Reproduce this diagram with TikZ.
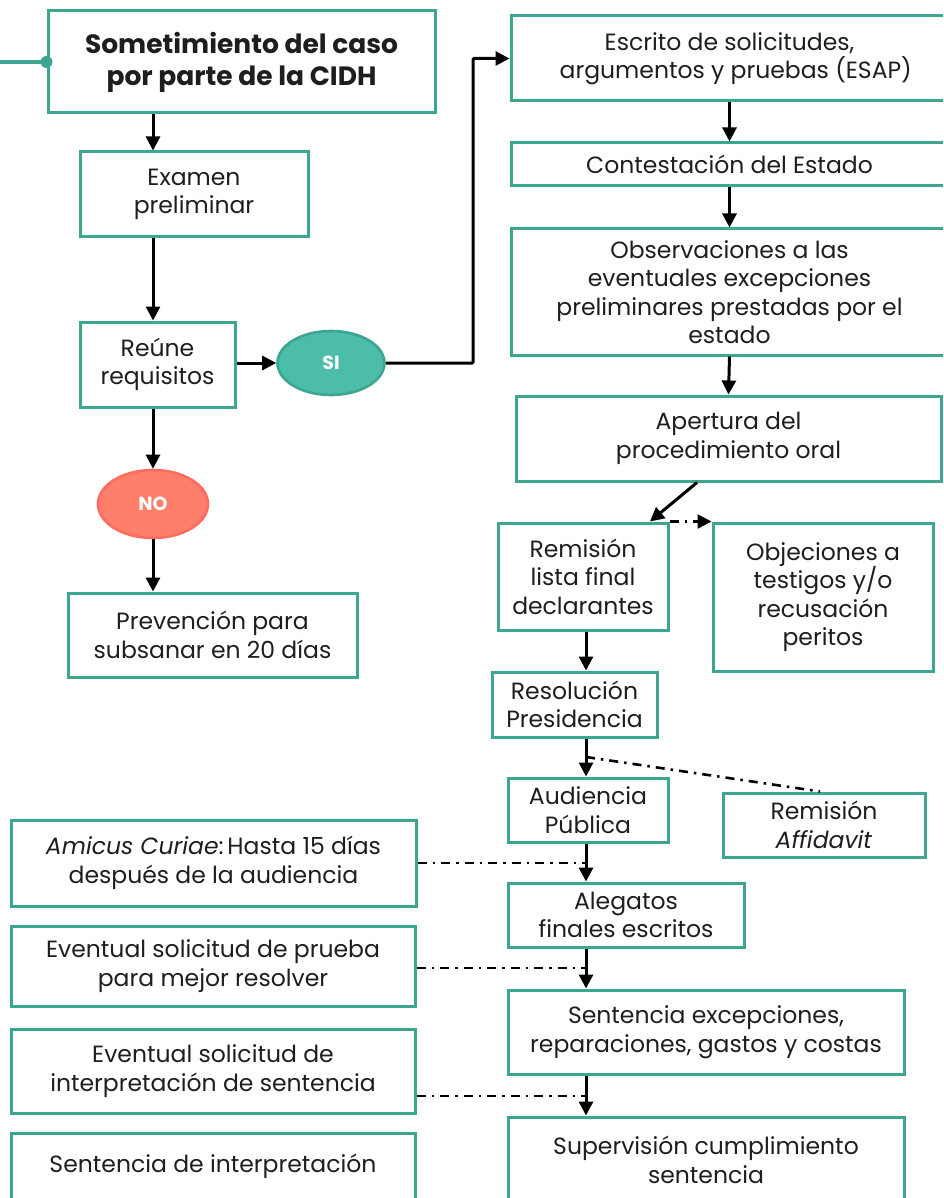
\documentclass[tikz,border=0pt]{standalone}
\usepackage{fontspec}
\setmainfont{Poppins}
\usetikzlibrary{arrows.meta,shapes.geometric}

\definecolor{verde}{HTML}{3DA693}
\definecolor{verdesi}{HTML}{4BBDA9}
\definecolor{rojono}{HTML}{FF7F6B}
\definecolor{bordeno}{HTML}{FF6B5E}
\definecolor{texto}{HTML}{1E1E1E}

\tikzset{
  caja/.style={draw=verde, line width=3pt, fill=white, align=center, text=texto,
    font=\fontsize{23.5}{28.5}\selectfont, inner sep=0pt},
  decision/.style={ellipse, line width=2.6pt, text=white, inner sep=0pt,
    font=\fontsize{19}{20}\selectfont\bfseries},
  flecha/.style={-{Triangle[length=14pt,width=14pt]}, line width=3pt},
  trazo/.style={line width=2.6pt, dash pattern=on 9pt off 6pt on 2.5pt off 6pt},
}

\begin{document}
\begin{tikzpicture}[x=1pt, y=-1pt]
  \useasboundingbox (0,0) rectangle (943,1198);
  \clip (0,0) rectangle (943,1198);

  % columna izquierda
  \node[caja, minimum width=387, minimum height=102,
    font=\fontsize{26.5}{32}\selectfont\bfseries] (someti) at (241.5,62)
    {Sometimiento del caso\\por parte de la CIDH};
  \node[caja, minimum width=228, minimum height=85] (examen) at (194,194.5)
    {Examen\\preliminar};
  \node[caja, minimum width=155, minimum height=85] (reune) at (157.5,364.5)
    {Reúne\\requisitos};
  \node[decision, fill=verdesi, draw=verde, minimum width=107, minimum height=64] (si) at (331,363) {SI};
  \node[decision, fill=rojono, draw=bordeno, minimum width=110, minimum height=68] (no) at (153,504) {NO};
  \node[caja, minimum width=289, minimum height=84] (prev) at (212.5,635)
    {Prevención para\\subsanar en 20 días};

  % columna derecha
  \node[caja, minimum width=437, minimum height=85] (esap) at (729.5,58.5)
    {Escrito de solicitudes,\\\ \ argumentos y pruebas (ESAP)};
  \node[caja, minimum width=437, minimum height=43] (contest) at (729.5,164.5)
    {Contestación del Estado};
  \node[caja, minimum width=437, minimum height=126] (observ) at (729.5,292)
    {Observaciones a las\\eventuales excepciones\\preliminares prestadas por el\\estado};
  \node[caja, minimum width=425, minimum height=85] (apert) at (728.5,438.5)
    {Apertura del\\procedimiento oral};
  \node[caja, minimum width=170, minimum height=107] (remlista) at (583,576.5)
    {Remisión\\lista final\\declarantes};
  \node[caja, minimum width=220, minimum height=148] (objec) at (823,597)
    {Objeciones a\\testigos y/o\\recusación\\peritos};
  \node[caja, minimum width=165, minimum height=65] (resol) at (574.5,704.5)
    {Resolución\\Presidencia};
  \node[caja, minimum width=160, minimum height=64] (audien) at (588,810)
    {Audiencia\\Pública};
  \node[caja, minimum width=202, minimum height=64] (affid) at (824,825)
    {Remisión\\\textit{Affidavit}};
  \node[caja, minimum width=236, minimum height=64] (alegatos) at (626,915)
    {Alegatos\\finales escritos};
  \node[caja, minimum width=396, minimum height=84] (sentexc) at (706,1032)
    {Sentencia excepciones,\\reparaciones, gastos y costas};
  \node[caja, minimum width=396, minimum height=86] (superv) at (706,1160)
    {Supervisión cumplimiento\\sentencia};

  % recuadros de la izquierda abajo
  \node[caja, minimum width=405, minimum height=86] (amicus) at (213.5,863)
    {\textit{Amicus Curiae}:\,Hasta 15 días\\después de la audiencia};
  \node[caja, minimum width=404, minimum height=80] (prueba) at (213,966)
    {Eventual solicitud de prueba\\para mejor resolver};
  \node[caja, minimum width=404, minimum height=84] (interp) at (213,1071)
    {Eventual solicitud de\\interpretación de sentencia};
  \node[caja, minimum width=404, minimum height=67] (sentint) at (213,1166.5)
    {Sentencia de interpretación};

  % entrada
  \coordinate (entrada) at (0,62);
  \draw[verde, line width=4pt] (entrada) -- (someti.west);
  \fill[verde] (someti.west) circle (6);

  \draw[flecha] (someti.south -| no) -- (examen.north -| no);
  \draw[flecha] (examen.south -| no) -- (reune.north -| no);
  \draw[flecha] (reune.south -| no) -- (no.north);
  \draw[flecha] (no.south) -- (prev.north -| no);
  \draw[flecha] (reune.east |- si.west) -- (si.west);
  \draw[flecha, rounded corners=1pt] (si.east) -- (473,363) -- (473,58.5) -- (esap.west);

  \draw[flecha] (esap.south) -- (contest.north);
  \draw[flecha] (contest.south) -- (observ.north);
  \draw[flecha] (observ.south) -- (apert.north);
  \draw[flecha] ([xshift=-31.5]apert.south) -- ([xshift=67]remlista.north);
  \draw[flecha, trazo] (remlista.north east) -- (objec.north west);

  \coordinate (eje) at (586,0);
  \draw[flecha] (remlista.south -| eje) -- (resol.north -| eje);
  \draw[flecha] (resol.south -| eje) -- (audien.north -| eje);
  \draw[trazo] (586,757) -- ([xshift=-4]affid.north);
  \draw[flecha] (audien.south -| eje) -- (alegatos.north -| eje);
  \draw[flecha] (alegatos.south -| eje) -- (sentexc.north -| eje);
  \draw[flecha] (sentexc.south -| eje) -- (superv.north -| eje);

  \draw[trazo] (amicus.east) -- (amicus.east -| eje);
  \draw[trazo] ([yshift=-2]prueba.east) -- ([yshift=-2]prueba.east -| eje);
  \draw[trazo] ([yshift=-25]interp.east) -- ([yshift=-25]interp.east -| eje);
\end{tikzpicture}
\end{document}
